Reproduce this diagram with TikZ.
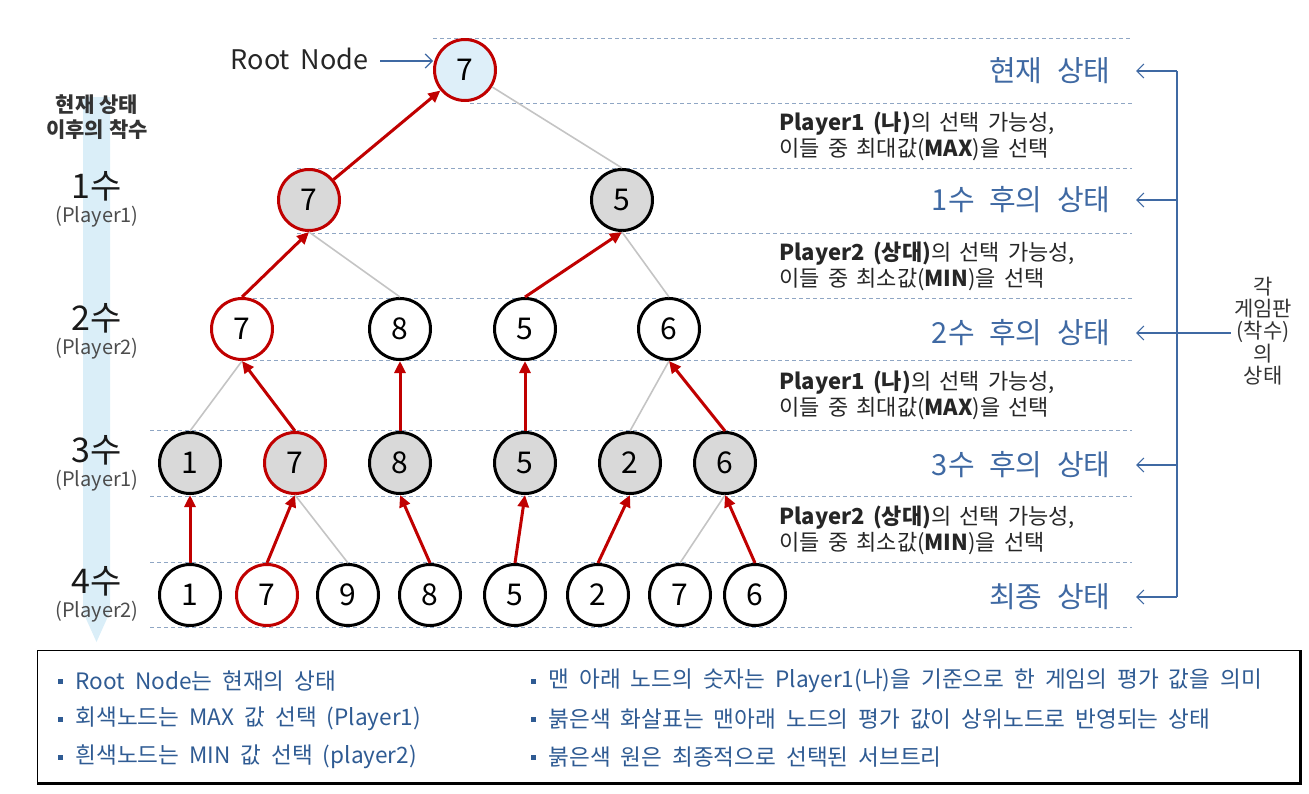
\documentclass[tikz,border=0pt]{standalone}
\usepackage{fontspec}
\setmainfont{Noto Sans CJK KR}
\usepackage{xcolor}
\usetikzlibrary{arrows.meta}

\definecolor{pickred}{HTML}{C00000}
\definecolor{maxgray}{HTML}{D9D9D9}
\definecolor{rootblue}{HTML}{DEEFF9}
\definecolor{bandblue}{HTML}{DAEEF8}
\definecolor{rulecol}{HTML}{8FA6C4}
\definecolor{labelblue}{HTML}{3F69A3}
\definecolor{notecol}{HTML}{2F5B93}
\definecolor{edgegray}{HTML}{C4C4C4}

% font size and word space
\newcommand{\fs}[1]{\fontsize{#1}{#1}\selectfont}
\newcommand{\ws}[1]{\spaceskip=#1em\relax}

\tikzset{
  state/.style={circle,draw=black,line width=3pt,minimum size=61pt,inner sep=0pt,
    fill=white,font=\fs{30}},
  maxstate/.style={state,fill=maxgray},
  picked/.style={draw=pickred},
  uparrow/.style={draw=pickred,line width=3pt,-{Triangle[length=12pt,width=11pt]}},
  otheredge/.style={draw=edgegray,line width=1.6pt},
  blueline/.style={draw=labelblue,line width=1.2pt},
  bluearrow/.style={blueline,-{Straight Barb[length=7pt,width=14pt]}},
  levellabel/.style={labelblue,font=\fs{29}\ws{0.5},anchor=east},
  choicetext/.style={black!85,font=\fs{22}\ws{0.37},anchor=west,align=left},
  note/.style={notecol,font=\fs{22.6}\ws{0.44},anchor=west},
}

\begin{document}
\begin{tikzpicture}[x=1pt,y=-1pt]
    \useasboundingbox (0,0) rectangle (1309,793);

    % left band
    \fill[bandblue] (83,97) -- (110,97) -- (110,612) -- (96.5,642) -- (83,612) -- cycle;

    % dashed level lines
    \foreach \yy/\xs in {38/433,103/470,168/297,233/297,298/253,360/253,430/150,496/150,562/150,627/150}
        \draw[rulecol,line width=1pt,dash pattern=on 4pt off 3pt] (\xs,\yy) -- (1132,\yy);

    % tree
    \node[state,picked,fill=rootblue] (r) at (465,70) {7};
    \node[maxstate,picked] (a1) at (309,200) {7};
    \node[maxstate] (a2) at (622,200) {5};
    \node[state,picked] (b1) at (242,329) {7};
    \node[state] (b2) at (400,329) {8};
    \node[state] (b3) at (525,329) {5};
    \node[state] (b4) at (669,329) {6};
    \node[maxstate] (c1) at (190,463) {1};
    \node[maxstate,picked] (c2) at (295,463) {7};
    \node[maxstate] (c3) at (400,463) {8};
    \node[maxstate] (c4) at (525,463) {5};
    \node[maxstate] (c5) at (630,463) {2};
    \node[maxstate] (c6) at (725,463) {6};
    \node[state] (d1) at (190,595) {1};
    \node[state,picked] (d2) at (267,595) {7};
    \node[state] (d3) at (348,595) {9};
    \node[state] (d4) at (430,595) {8};
    \node[state] (d5) at (515,595) {5};
    \node[state] (d6) at (598,595) {2};
    \node[state] (d7) at (680,595) {7};
    \node[state] (d8) at (755,595) {6};

    % edges
    \draw[uparrow] (a1) -- (r);
    \draw[otheredge] (r) -- (a2.north);
    \draw[uparrow] (b1.north) -- (a1.south);
    \draw[otheredge] (a1.south) -- (b2.north);
    \draw[uparrow] (b3.north) -- (a2.south);
    \draw[otheredge] (a2.south) -- (b4.north);
    \draw[otheredge] (b1.south) -- (c1.north);
    \draw[uparrow] (c2.north) -- (b1.south);
    \draw[uparrow] (c3.north) -- (b2.south);
    \draw[uparrow] (c4.north) -- (b3.south);
    \draw[otheredge] (b4.south) -- (c5.north);
    \draw[uparrow] (c6.north) -- (b4.south);
    \draw[uparrow] (d1.north) -- (c1.south);
    \draw[uparrow] (d2.north) -- (c2.south);
    \draw[otheredge] (c2.south) -- (d3.north);
    \draw[uparrow] (d4.north) -- (c3.south);
    \draw[uparrow] (d5.north) -- (c4.south);
    \draw[uparrow] (d6.north) -- (c5.south);
    \draw[otheredge] (c6.south) -- (d7.north);
    \draw[uparrow] (d8.north) -- (c6.south);

    % root label
    \node[font=\fs{27}\ws{0.4},black!85,anchor=east] (rootlbl) at (372,59) {Root Node};
    \draw[bluearrow] (rootlbl.east) ++(8,2) coordinate (rl) -- (r.west |- rl);

    % left column
    \node[font=\bfseries\fs{21},black!80,align=center] (movehead) at (97,117) {현재 상태\\[4pt]이후의 착수};
    \foreach \nm/\yy/\pl in {1/186/1,2/318/2,3/450/1,4/581/2} {
        \node[font=\fs{34},black!90] (mv\nm) at (97,\yy) {\nm 수};
        \node[font=\fs{20},black!70] (pl\nm) at (97,\yy+31) {(Player\pl)};
    }

    % middle texts
    \node[choicetext] (ch1) at (776,136) {\textbf{Player1 (나)}의 선택 가능성,\\[2pt]이들 중 최대값(\textbf{MAX})을 선택};
    \node[choicetext] (ch2) at (776,266) {\textbf{Player2 (상대)}의 선택 가능성,\\[2pt]이들 중 최소값(\textbf{MIN})을 선택};
    \node[choicetext] (ch3) at (776,395) {\textbf{Player1 (나)}의 선택 가능성,\\[2pt]이들 중 최대값(\textbf{MAX})을 선택};
    \node[choicetext] (ch4) at (776,530) {\textbf{Player2 (상대)}의 선택 가능성,\\[2pt]이들 중 최소값(\textbf{MIN})을 선택};

    % right labels and bracket
    \node[levellabel] (s0) at (1114,71) {현재 상태};
    \node[levellabel] (s1) at (1114,200) {1수 후의 상태};
    \node[levellabel] (s2) at (1114,333) {2수 후의 상태};
    \node[levellabel] (s3) at (1114,465) {3수 후의 상태};
    \node[levellabel] (s4) at (1114,597) {최종 상태};
    \coordinate (bt) at (1177,71);
    \coordinate (bb) at (1177,597);
    \draw[blueline] (bt) -- (bb);
    \foreach \s in {s0,s1,s2,s3,s4}
        \draw[bluearrow] (bt |- \s) -- ([xshift=22pt]\s.east);
    \node[font=\fs{21},black!80,align=center] (board) at (1263,331) {각\\[1pt]게임판\\[1pt](착수)\\[1pt]의\\[1pt]상태};
    \draw[blueline,line width=2pt] (bt |- s2) -- (board.west |- s2);

    % notes box
    \draw[black,line width=1pt] (37,650) rectangle (1300,783);
    \draw[black,line width=3pt] (37,783) -- (1300,783) -- (1300,650);
    \foreach \xx/\yy/\txt [count=\i] in {
        60/681/{Root Node는 현재의 상태},
        60/719/{회색노드는 MAX 값 선택 (Player1)},
        60/757/{흰색노드는 MIN 값 선택 (player2)},
        533/681/{맨 아래 노드의 숫자는 Player1(나)을 기준으로 한 게임의 평가 값을 의미},
        533/719/{붉은색 화살표는 맨아래 노드의 평가 값이 상위노드로 반영되는 상태},
        533/757/{붉은색 원은 최종적으로 선택된 서브트리}} {
        \fill[notecol] (\xx-2.5,\yy-2.5) rectangle (\xx+2.5,\yy+2.5);
        \node[note] (n\i) at (\xx+12,\yy) {\txt};
    }
\end{tikzpicture}
\end{document}
